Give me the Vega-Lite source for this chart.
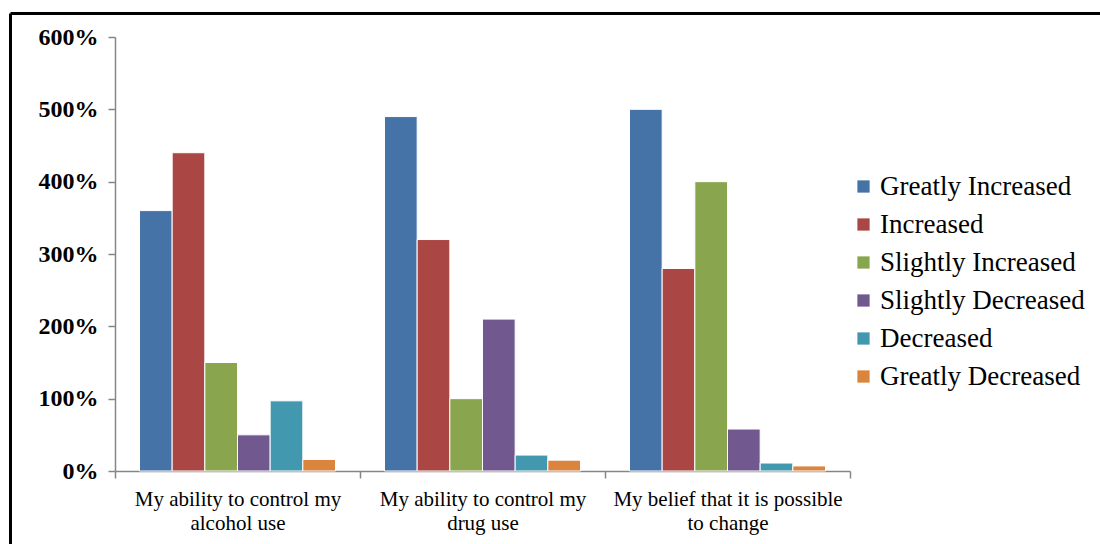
{
  "$schema": "https://vega.github.io/schema/vega-lite/v6.json",
  "width": 1090,
  "height": 531,
  "autosize": {"type": "none"},
  "padding": {"left": 10, "top": 13, "right": 0, "bottom": 0},
  "background": "white",
  "config": {"view": {"stroke": null}},
  "data": {
    "values": [
      {"item": "My ability to control my alcohol use", "response": "Greatly Increased", "pct": 360},
      {"item": "My ability to control my alcohol use", "response": "Increased", "pct": 440},
      {"item": "My ability to control my alcohol use", "response": "Slightly Increased", "pct": 150},
      {"item": "My ability to control my alcohol use", "response": "Slightly Decreased", "pct": 50},
      {"item": "My ability to control my alcohol use", "response": "Decreased", "pct": 97},
      {"item": "My ability to control my alcohol use", "response": "Greatly Decreased", "pct": 16},
      {"item": "My ability to control my drug use", "response": "Greatly Increased", "pct": 490},
      {"item": "My ability to control my drug use", "response": "Increased", "pct": 320},
      {"item": "My ability to control my drug use", "response": "Slightly Increased", "pct": 100},
      {"item": "My ability to control my drug use", "response": "Slightly Decreased", "pct": 210},
      {"item": "My ability to control my drug use", "response": "Decreased", "pct": 22},
      {"item": "My ability to control my drug use", "response": "Greatly Decreased", "pct": 15},
      {"item": "My belief that it is possible to change", "response": "Greatly Increased", "pct": 500},
      {"item": "My belief that it is possible to change", "response": "Increased", "pct": 280},
      {"item": "My belief that it is possible to change", "response": "Slightly Increased", "pct": 400},
      {"item": "My belief that it is possible to change", "response": "Slightly Decreased", "pct": 58},
      {"item": "My belief that it is possible to change", "response": "Decreased", "pct": 11},
      {"item": "My belief that it is possible to change", "response": "Greatly Decreased", "pct": 7}
    ]
  },
  "layer": [
    {
      "mark": {"type": "bar", "stroke": "white", "strokeWidth": 1},
      "encoding": {
        "x": {
          "field": "item", "type": "nominal", "sort": null,
          "scale": {"range": [105, 840], "paddingInner": 0, "paddingOuter": 0},
          "axis": {
            "title": null, "orient": "bottom", "offset": -73, "tickBand": "extent", "labelAngle": 0,
            "labelFont": "Liberation Serif", "labelFontSize": 21, "labelColor": "black", "labelLimit": 0,
            "labelPadding": 10, "labelLineHeight": 24,
            "domainColor": "#868686", "domainWidth": 1.5, "tickColor": "#868686", "tickWidth": 1.5, "tickSize": 7,
            "labelExpr": "datum.value == 'My ability to control my alcohol use' ? ['My ability to control my', 'alcohol use'] : datum.value == 'My ability to control my drug use' ? ['My ability to control my', 'drug use'] : datum.value == 'My belief that it is possible to change' ? ['My belief that it is possible', 'to change'] : ''"
          }
        },
        "xOffset": {
          "field": "response", "type": "nominal",
          "sort": ["Greatly Increased", "Increased", "Slightly Increased", "Slightly Decreased", "Decreased", "Greatly Decreased"],
          "scale": {"paddingInner": 0, "paddingOuter": 0.75}
        },
        "y": {
          "field": "pct", "type": "quantitative",
          "scale": {"domain": [0, 600], "range": [458, 24], "nice": false},
          "axis": {
            "title": null, "values": [0, 100, 200, 300, 400, 500, 600], "labelExpr": "datum.value + '%'",
            "labelFont": "Liberation Serif", "labelFontWeight": "bold", "labelFontSize": 24, "labelColor": "black",
            "offset": -105, "grid": false, "domainColor": "#868686", "domainWidth": 1.5,
            "tickColor": "#868686", "tickWidth": 1.5, "tickSize": 7, "labelPadding": 10
          }
        },
        "color": {
          "field": "response", "type": "nominal",
          "scale": {
            "domain": ["Greatly Increased", "Increased", "Slightly Increased", "Slightly Decreased", "Decreased", "Greatly Decreased"],
            "range": ["#4572A7", "#AA4643", "#89A54E", "#71588F", "#4198AF", "#DB843D"]
          },
          "legend": {
            "title": null, "orient": "none", "legendX": 840, "legendY": 160,
            "labelFont": "Liberation Serif", "labelFontSize": 27, "labelColor": "black", "labelLimit": 0,
            "symbolType": "square", "symbolSize": 150, "symbolStrokeWidth": 0,
            "rowPadding": 10, "labelOffset": 3
          }
        }
      }
    },
    {
      "mark": {"type": "point", "opacity": 0},
      "encoding": {
        "x": {
          "field": "pct", "type": "quantitative", "scale": {"domain": [0, 600]},
          "axis": {"orient": "top", "title": null, "labels": false, "ticks": false, "grid": false, "domainColor": "black", "domainWidth": 3}
        },
        "y": {
          "field": "pct", "type": "quantitative", "scale": {"domain": [0, 600]},
          "axis": {"orient": "left", "title": null, "labels": false, "ticks": false, "grid": false, "domainColor": "black", "domainWidth": 3}
        }
      }
    }
  ],
  "resolve": {
    "scale": {"x": "independent", "y": "independent"},
    "axis": {"x": "independent", "y": "independent"}
  }
}
